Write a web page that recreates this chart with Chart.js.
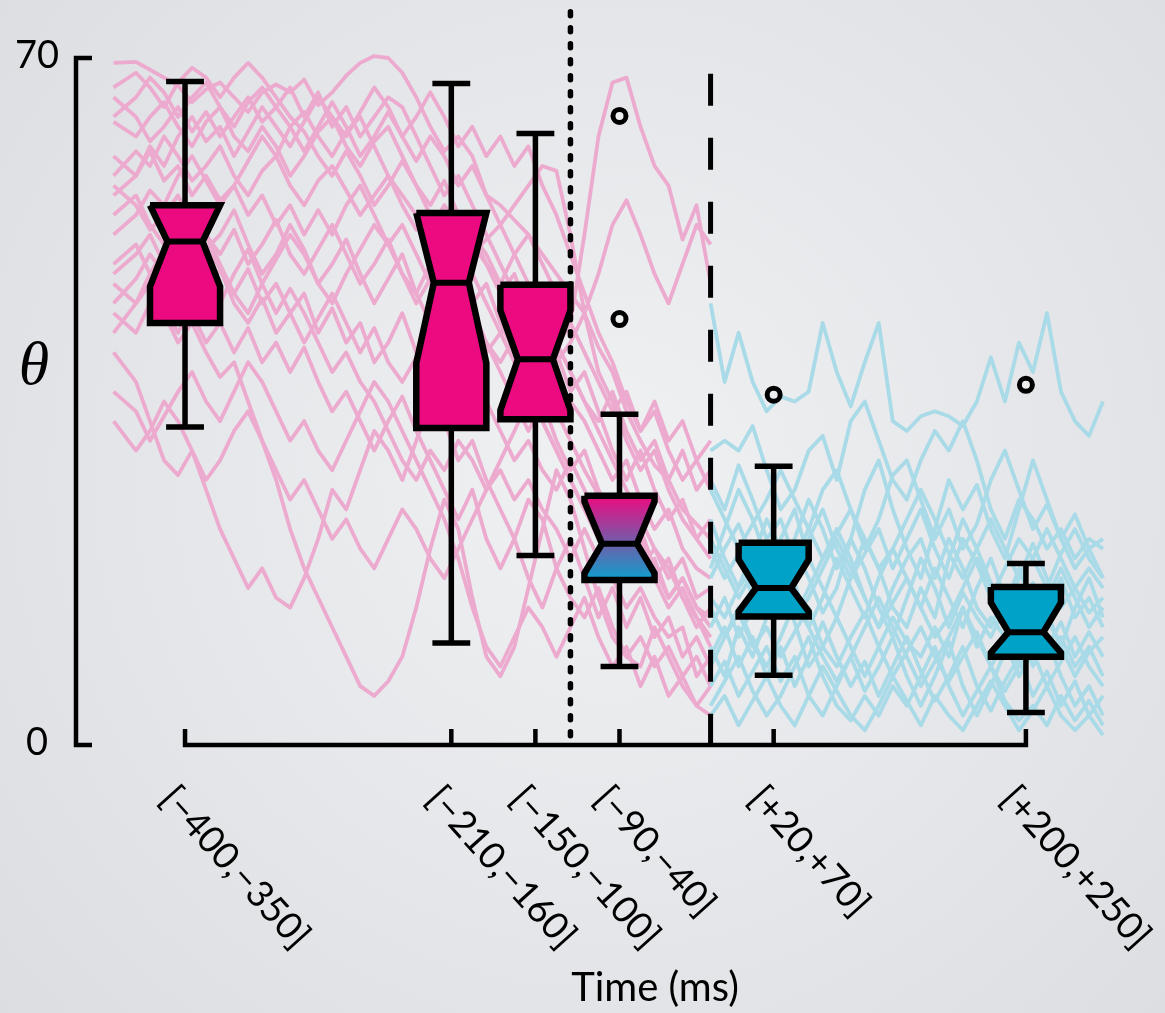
<!DOCTYPE html>
<html>
<head>
<meta charset="utf-8">
<script src="https://cdn.jsdelivr.net/npm/chart.js@4.4.1/dist/chart.umd.min.js"></script>
<style>
html,body{margin:0;padding:0;background:#e6e7ea;}
canvas{display:block;}
</style>
</head>
<body>
<canvas id="c" width="1165" height="1013"></canvas>
<script>
// ---------------- DATA ----------------
const BOX_LABELS   = ['[\u2212400,\u2212350]', '[\u2212210,\u2212160]', '[\u2212150,\u2212100]', '[\u221290,\u221240]', '[+20,+70]', '[+200,+250]'];
const BOX_START    = [-400, -210, -150, -90, 20, 200];
const BOX_END      = [-350, -160, -100, -40, 70, 250];
const WHISKER_LOW  = [32.4, 10.4, 19.3, 8.0, 7.1, 3.3];
const Q1           = [43.0, 32.3, 33.2, 16.8, 13.1, 9.0];
const NOTCH_LOW    = [46.7, 38.9, 34.1, 17.5, 13.6, 9.4];
const MEDIAN       = [51.3, 47.1, 39.3, 20.5, 16.0, 11.5];
const NOTCH_HIGH   = [55.0, 54.2, 44.3, 24.8, 18.9, 14.5];
const Q3           = [55.0, 54.2, 46.9, 25.4, 20.6, 16.1];
const WHISKER_HIGH = [67.6, 67.4, 62.3, 33.7, 28.4, 18.5];
const BOX_PHASE    = ['pre', 'pre', 'pre', 'mixed', 'post', 'post'];

const OUTLIER_BOX   = [3, 3, 4, 5];
const OUTLIER_VALUE = [64.1, 43.4, 35.7, 36.7];

const Y_TICKS = [0, 70];
const SACCADE_ONSET = 0;      // dashed line (ms)
const CUE_TIME = -100;        // dotted line (ms)

const PINK_TIMES = [-426,-410,-400,-390,-380,-370,-360,-350,-340,-330,-320,-310,-300,-290,-280,-270,-260,-250,-240,-230,-220,-210,-200,-190,-180,-170,-160,-150,-140,-130,-120,-110,-100,-90,-80,-70,-60,-50,-40,-30,-20,-10,0];
const CYAN_TIMES = [0,10,20,30,40,50,60,70,80,90,100,110,120,130,140,150,160,170,180,190,200,210,220,230,240,250,260,270,280];

const PINK_TRACES = [
 [69.5,69.6,68.8,68,67.2,65.5,66.8,67.5,66,64.5,66.5,67.3,66.5,67.8,65.2,66.5,68.2,69.5,70.2,70,68.5,66,63,60.5,62,60,56,55,53.5,52,50,48,46,44,40.5,38,34,31,28.5,27,24,22.5,21],
 [58,60.5,59,62,60,57.5,59,61,58,56,58.5,60,57,55,57.5,59,56.5,54,56,58,55,52.5,54,51,49.5,52,50,47,45.5,44,42,40.5,43,52,62,67.5,68,63,59,57,51.5,55,47],
 [52,54,56.5,55,58,60,57.5,55,57,59.5,62,60,63,64.5,62,60,62.5,64,61,58,56,54,52.5,55,53,50,51.5,53,55,57,59,58.5,52,44,38,35,31,28,30,26,23,21,19],
 [47,45,48,44,41,43,40,37.5,39,35,31,27,22,18,15,12,9,6,5,6.5,9,14,20,25,22,15,9,7,10,16,22,28,25,20,15,11,9,8,12,9,6,4,3],
 [40,37,33,29,27.5,30,26,22,19,16,18,15,14,17,21,26,24,28,32,30,27,31,35,33,29,31,27,24,21,25,23,18,15,13,16,12,9,11,8,10,7,9,6],
 [63.5,62,64,65.5,63,61,63.5,65,62,60.5,63,61,58,60,62.5,64,61,59,61.5,63,60,57,55,57.5,54,51,49,46,48,44,40,37.5,35,33,30,27,29,25,22,24,20,18,17],
 [57,55,52.5,54,56,53,50.5,52,54.5,51,48,50,53,50.5,47,49,51.5,48,45,47.5,50,46,43,45,47.5,44,40,42,39,36,38,34,31,28,25.5,22,24,20,17,19,15,13,11],
 [49,51,48,50.5,47,49,52,49,46,48.5,45,47,44,46,42,44.5,41,43,39,41,44,40,37,39,36,38,41,38,35,32,35,31,28,30,26,23,20,22,18,15,17,14,12],
 [66,64,61.5,63,65,62.5,64.5,62,64,66,63.5,65,67,64,66.5,63,65,62,64,66,65,62,59,56,58,55,52,49,46,43.5,45,41,38,35,33,36,32,29,31,27,30,26,28],
 [44,42,45,43,46.5,44,41,43,40,42.5,39,41,38,40.5,37,34,36,33,30,33,35.5,32,29,26,23,26,21,18,21,17,14,18,21,17,13,16,12,15,11,13,9,11,8],
 [60,58,60.5,57.5,59,56,58,55.5,57,54,56,53,55,52,54.5,52,55,57,54,51,53,50,47,49.5,46,48,45,42,44,41,43,40,36,38,34,30,27,30,26,23,25,21,23],
 [54,56,53,51,53.5,55,52,50,52.5,49,51,53.5,50,48,50.5,53,50,47,49,51.5,48,45,47.5,44,42,44.5,41,39,41.5,38,36,39,41,44,48,53,55.5,52,48,45,49,53,51],
 [36,34,31,33.5,36,38,35,33,36,39,37,34,31,33,30,28,31,34,37,35,32,29,26,23,19,14,10,8,11,14,12,9,12,15,11,8,10,6,9,5,7,4,6],
 [48,50,52,49,51,48,46,48.5,45,43,45.5,42,44,41,43.5,46,43,40,42.5,39,37,39.5,36,34,36.5,33,35,32,29,31,28,26,29,26,23,25,21,18,20,17,19,15,16],
 [67,68.5,67,65,67.5,69,68,66,68,69.5,68,66,64,62.5,60,58,60.5,58,55,57,59.5,57,54,51,48,45,47,43,40,37,33,30,27,24,26,22,19,21,17,14,16,13,10],
 [42,45,47,44.5,42,45,47.5,45,48,50.5,47,44,46.5,44,41,38,40,37,35,32,29,27,30,28,31,29,26,28,25,27,24,22,19,22,19,17,14,16,13,11,12,7,9],
 [56,58,61,59,62,64,61.5,63,60,62.5,65,63,61,63.5,66,64,62,64.5,67,65,62,64,66.5,64,61,63,60,62,59,61,57,54,50,46,42,39,35,32,34,30,27,29,26],
 [45,47.5,50,48,46,49,51,48.5,46,44,47,49.5,52,50,47,45,48,50.5,53,51,48,46,49,51.5,54,52,49,47,50,52,49,46,43,40,37,34,36,32,35,31,33,29,31],
 [33,30,32,35,33,30,27,29,32,34,31,28,25,27,24,21,23,20,18,21,24,22,19,17,20,23,26,29,32,35,33,30,27,24,21,18,20,17,19,15,17,14,13],
 [64,66,68,66.5,64,66,67.5,65,63,65.5,67,65,63,60.5,63,65.5,63,60,62,64.5,62,59.5,62,60,57,59,56,53,50,47,44,41,38,35,32,29,26,23,20,18,15,12,14]
];

const CYAN_TRACES = [
 [45,37,42,37,34,35.5,35,36,43,38,34.5,39,43,33,32,33.5,34,33.5,32.5,35,39.5,35,41,38,44,36,33,31.5,35],
 [30,31,30,32.5,28,24,26,30,31.5,27,33,35,31,27,25,29,32,30,33,29,24,21,25,23,20,22,19,21,20],
 [27,24,28.5,25,21,23,19,22,26,28,24,20,23,27.5,29,25,21,24,20,22.5,27,30,26,22,24.5,21,18,20,17],
 [20,17,19.5,15,18,14,16.5,12,15,19,16,13,17,20,17,14,18,15,12,16,19,15,13,16.5,14,17,13,15,12],
 [14,11,13.5,10,12,9,11.5,14,10,8,11,13.5,10,7,9.5,12,9,6.5,9,11.5,8,10.5,7,9.5,6,8.5,11,8,6],
 [17,20,22.5,19,23,20,17,21,24,20,17,19.5,22,18,21,24,20,17,21,18.5,15,18,21,19,16,19.5,22,19,17],
 [9,12,8,11,7,10,6,9,12.5,9,6,8.5,5,8,11,7.5,4.5,7,10,6,3.5,6.5,9,5,7.5,4,6.5,3,5],
 [23,19,16,20,17,21,24,19,16,13,17,21,18,14,12,16,13,19,23,20,16.5,13,17,20.5,17,14,16,13.5,15],
 [6,8.5,5,7.5,10,6.5,9,5,3,6,9,5.5,8,11,7,4,7,10.5,6,3,6,9.5,12,8,11,7,4,6,3],
 [12,15,11,14,16.5,13,20,17,13.5,16,21,18,14,11,15,19,16,12,15.5,13,11,14,18,14,10,12.5,9,11.5,9],
 [18,22,26,23,19,17,21,25,22,18,21,26,29,24,20,17,22,27,24,26.5,22,19,24,29,25,21,23.5,20,21],
 [4,6.5,9,5.5,3,5,8,11,7,4,2.5,5,3,6,4,7,10,6,3,5.5,8,4.5,2.5,4,2,5,2.5,4.5,2],
 [15,13,16,18,14,17,13,16,19,22,19,15,12,16,19,21,17,21,18,14,12,15.5,12,10,13,10,14,17,13],
 [10,7,12,9,13,16,12.5,8,10,13,10,7,10,13,10.5,9,12,9,14,10,13,11,8,11.5,9,11,8,10,7],
 [21,18,15,17.5,20,16,13,15,18,21,18,15,12,14.5,17,14,11,13,16,19,16,13,10,12.5,15,18,15,12,14],
 [8,11,14,10.5,8,11,14.5,12,9,6.5,9,12,15,12,9,6,8.5,11,14,11,8,5.5,8,11,13.5,10,7,9.5,11],
 [26,23,20,22.5,25,28,25,22,19,21.5,24,21,18,20,23,26,23,19.5,17,20,23,20,17,19,22,19,16,18,16],
 [3,5,2,4.5,7,4,2,5,8,5.5,3,1.5,4,7,4.5,2,5,3,1.5,4,6.5,4,1.5,3.5,6,3,1.5,3,1]
];

// ---------------- STYLE ----------------
const PINK_LINE = '#edaacf';
const CYAN_LINE = '#a8dae7';
const PINK_BOX = '#ec0a80';
const CYAN_BOX = '#01a2c8';
const FONT = 'Lato, "Open Sans", sans-serif';

const centers = BOX_START.map((s, i) => (s + BOX_END[i]) / 2);

// ---------------- DATASETS ----------------
const datasets = [];
function trace(times, vals, color) {
  return {
    data: times.map((t, i) => ({x: t, y: vals[i]})),
    borderColor: color, borderWidth: 3.8, pointRadius: 0, tension: 0,
    borderJoinStyle: 'round', fill: false, clip: false, order: 20
  };
}
CYAN_TRACES.forEach(v => datasets.push(trace(CYAN_TIMES, v, CYAN_LINE)));
PINK_TRACES.forEach(v => datasets.push(trace(PINK_TIMES, v, PINK_LINE)));

// reference lines
datasets.push({
  data: [{x: CUE_TIME, y: 74.7}, {x: CUE_TIME, y: 0}],
  borderColor: '#000', borderWidth: 5.5, borderDash: [4, 12], borderCapStyle: 'round',
  pointRadius: 0, fill: false, clip: false, order: 10
});
datasets.push({
  data: [{x: SACCADE_ONSET, y: 68.4}, {x: SACCADE_ONSET, y: 0}],
  borderColor: '#000', borderWidth: 5, borderDash: [32, 32], borderCapStyle: 'butt',
  pointRadius: 0, fill: false, clip: false, order: 10
});

// whiskers
const CAP_HALF = 13.5; // ms
const whiskerPts = [];
centers.forEach((c, i) => {
  whiskerPts.push({x: c, y: Q3[i]}, {x: c, y: WHISKER_HIGH[i]}, {x: c, y: null});
  whiskerPts.push({x: c - CAP_HALF, y: WHISKER_HIGH[i]}, {x: c + CAP_HALF, y: WHISKER_HIGH[i]}, {x: c, y: null});
  whiskerPts.push({x: c, y: Q1[i]}, {x: c, y: WHISKER_LOW[i]}, {x: c, y: null});
  whiskerPts.push({x: c - CAP_HALF, y: WHISKER_LOW[i]}, {x: c + CAP_HALF, y: WHISKER_LOW[i]}, {x: c, y: null});
});
datasets.push({
  data: whiskerPts, borderColor: '#000', borderWidth: 5.5, pointRadius: 0,
  spanGaps: false, fill: false, clip: false, order: 5
});

// boxes (notched polygons)
centers.forEach((c, i) => {
  const l = BOX_START[i], r = BOX_END[i];
  const half = (r - l) / 2, nh = half * 0.5;
  const poly = [
    {x: l, y: Q3[i]}, {x: r, y: Q3[i]}, {x: r, y: NOTCH_HIGH[i]},
    {x: c + nh, y: MEDIAN[i]}, {x: r, y: NOTCH_LOW[i]}, {x: r, y: Q1[i]},
    {x: l, y: Q1[i]}, {x: l, y: NOTCH_LOW[i]}, {x: c - nh, y: MEDIAN[i]},
    {x: l, y: NOTCH_HIGH[i]}, {x: l, y: Q3[i]}
  ];
  let bg;
  if (BOX_PHASE[i] === 'pre') bg = PINK_BOX;
  else if (BOX_PHASE[i] === 'post') bg = CYAN_BOX;
  else bg = function (context) {
    const chart = context.chart;
    if (!chart.chartArea) return PINK_BOX;
    const ys = chart.scales.y;
    const g = chart.ctx.createLinearGradient(0, ys.getPixelForValue(Q3[i]), 0, ys.getPixelForValue(Q1[i]));
    g.addColorStop(0, '#ee0a80');
    g.addColorStop(1, '#0da0cd');
    return g;
  };
  datasets.push({
    data: poly, borderColor: '#000', borderWidth: 6.5, backgroundColor: bg,
    borderJoinStyle: 'miter', pointRadius: 0, fill: 'shape', clip: false, order: 3
  });
  datasets.push({
    data: [{x: c - nh, y: MEDIAN[i]}, {x: c + nh, y: MEDIAN[i]}],
    borderColor: '#000', borderWidth: 6, pointRadius: 0, fill: false, clip: false, order: 2
  });
});

// outliers
datasets.push({
  data: OUTLIER_BOX.map((b, i) => ({x: centers[b], y: OUTLIER_VALUE[i]})),
  showLine: false, pointRadius: 6.5, pointBorderWidth: 5, pointBorderColor: '#000',
  pointBackgroundColor: '#eceef0', pointHoverRadius: 6.5, clip: false, order: 0
});

// ---------------- PLUGINS ----------------
const background = {
  id: 'background',
  beforeDraw(chart) {
    const {ctx, width, height} = chart;
    ctx.save();
    const g = ctx.createRadialGradient(width * 0.52, height * 0.47, 40, width * 0.52, height * 0.47, 820);
    g.addColorStop(0, '#eff0f2');
    g.addColorStop(1, '#dcdde1');
    ctx.fillStyle = g;
    ctx.fillRect(0, 0, width, height);
    ctx.restore();
  }
};

const frame = {
  id: 'frame',
  afterDatasetsDraw(chart) {
    const {ctx, scales} = chart;
    const xs = scales.x, ys = scales.y;
    const left = chart.chartArea.left;
    const yBottom = ys.getPixelForValue(Y_TICKS[0]);
    const yTop = ys.getPixelForValue(Y_TICKS[Y_TICKS.length - 1]);
    ctx.save();
    ctx.strokeStyle = '#000';
    ctx.lineWidth = 4.5;
    ctx.lineJoin = 'miter';
    ctx.lineCap = 'butt';
    // y axis (range frame)
    ctx.beginPath();
    ctx.moveTo(left + 16, yTop);
    ctx.lineTo(left, yTop);
    ctx.lineTo(left, yBottom);
    ctx.lineTo(left + 16, yBottom);
    ctx.stroke();
    // x axis (range frame between first and last box)
    const px = centers.map(c => xs.getPixelForValue(c));
    ctx.beginPath();
    ctx.moveTo(px[0], yBottom - 16);
    ctx.lineTo(px[0], yBottom);
    ctx.lineTo(px[px.length - 1], yBottom);
    ctx.lineTo(px[px.length - 1], yBottom - 16);
    ctx.stroke();
    ctx.beginPath();
    for (let i = 1; i < px.length - 1; i++) {
      ctx.moveTo(px[i], yBottom);
      ctx.lineTo(px[i], yBottom - 16);
    }
    ctx.stroke();

    // y tick labels
    ctx.fillStyle = '#000';
    ctx.font = '38px ' + FONT;
    ctx.textAlign = 'center';
    ctx.textBaseline = 'alphabetic';
    Y_TICKS.forEach(v => ctx.fillText(String(v), 37, ys.getPixelForValue(v) + 10));

    // y title
    ctx.font = 'italic 62px "Liberation Serif", "DejaVu Serif", serif';
    ctx.fillText('\u03B8', 34, 384);

    // x tick labels (rotated)
    ctx.font = '37px ' + FONT;
    ctx.textAlign = 'left';
    ctx.textBaseline = 'middle';
    px.forEach((p, i) => {
      ctx.save();
      ctx.translate(p - 18, 792);
      ctx.rotate(48 * Math.PI / 180);
      ctx.fillText(BOX_LABELS[i], 0, 0);
      ctx.restore();
    });

    // x title
    ctx.font = '40px ' + FONT;
    ctx.textAlign = 'center';
    ctx.textBaseline = 'alphabetic';
    ctx.fillText('Time (ms)', 655, 1001);
    ctx.restore();
  }
};

new Chart(document.getElementById('c'), {
  type: 'line',
  data: {datasets},
  options: {
    responsive: false,
    animation: false,
    devicePixelRatio: 1,
    layout: {padding: {left: 76, right: 62, top: 58, bottom: 268}},
    scales: {
      x: {type: 'linear', min: -452.8, max: 280, display: false},
      y: {type: 'linear', min: 0, max: 70, display: false}
    },
    plugins: {legend: {display: false}, tooltip: {enabled: false}},
    elements: {line: {tension: 0}}
  },
  plugins: [background, frame]
});
</script>
</body>
</html>
